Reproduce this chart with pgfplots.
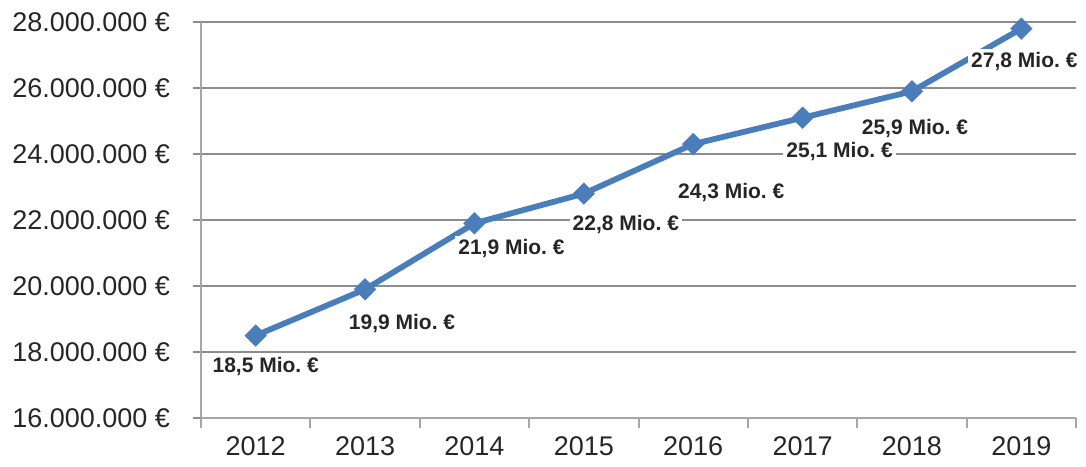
\documentclass[border=0pt]{standalone}
\usepackage{fontspec}
\setmainfont{Liberation Sans}
\usepackage{pgfplots}
\usepackage{pgfplotstable}
\pgfplotsset{compat=1.18}

\definecolor{lineblue}{HTML}{4A7EBB}
\definecolor{gridgray}{HTML}{8C8C8C}
\definecolor{axisgray}{HTML}{A6A6A6}

% revenue in Mio. EUR, dx/dy = label offset in pt
\pgfplotstableread{
x y dx dy
0 18.5 5 -15.5
1 19.9 18.5 -17
2 21.9 18.5 -12.5
3 22.8 21 -15.5
4 24.3 19 -24
5 25.1 18.5 -17
6 25.9 1.5 -18.5
7 27.8 1.5 -16.5
}\revenue

\begin{document}
\begin{tikzpicture}
\begin{axis}[
    scale only axis,
    width=437.5pt, height=198pt,
    xmin=-0.5, xmax=7.5, ymin=16, ymax=28,
    axis x line*=bottom, axis y line*=left,
    axis line style={axisgray, line width=1pt},
    xtick={0,...,7},
    xticklabels={2012,2013,2014,2015,2016,2017,2018,2019},
    major x tick style={draw=none},
    minor xtick={-0.5,0.5,...,7.5},
    minor x tick style={axisgray, line width=1pt},
    minor tick length=5pt,
    ytick={16,18,...,28},
    yticklabels={16.000.000 €,18.000.000 €,20.000.000 €,22.000.000 €,24.000.000 €,26.000.000 €,28.000.000 €},
    major y tick style={gridgray, line width=1pt},
    major tick length=4pt,
    tick align=outside,
    ymajorgrids, grid style={gridgray, line width=1pt},
    ticklabel style={font=\fontsize{13.5}{15}\selectfont, text=black!85},
    xticklabel style={yshift=-2pt},
    yticklabel style={xshift=-8pt},
    clip=false,
]
\addplot[lineblue, line width=2.9pt, mark=square*, mark size=3.7pt,
    mark options={fill=lineblue, draw=lineblue, line width=0.5pt, rotate=45},
    point meta=explicit,
    nodes near coords={\pgfmathprintnumber[fixed,fixed zerofill,precision=1,use comma,assume math mode=true]{\pgfplotspointmeta}~Mio.~€},
    visualization depends on={\thisrow{dx} \as \dx},
    visualization depends on={\thisrow{dy} \as \dy},
    every node near coord/.append style={anchor=center, xshift=\dx pt, yshift=\dy pt,
        fill=white, inner sep=1.5pt, text=black!85, rotate=0,
        font=\bfseries\fontsize{10.5}{12}\selectfont},
] table[x=x, y=y, meta=y] {\revenue};
\path (rel axis cs:-0.2297,-0.1212) rectangle (rel axis cs:1.0114,1.0556);
\end{axis}
\end{tikzpicture}
\end{document}
